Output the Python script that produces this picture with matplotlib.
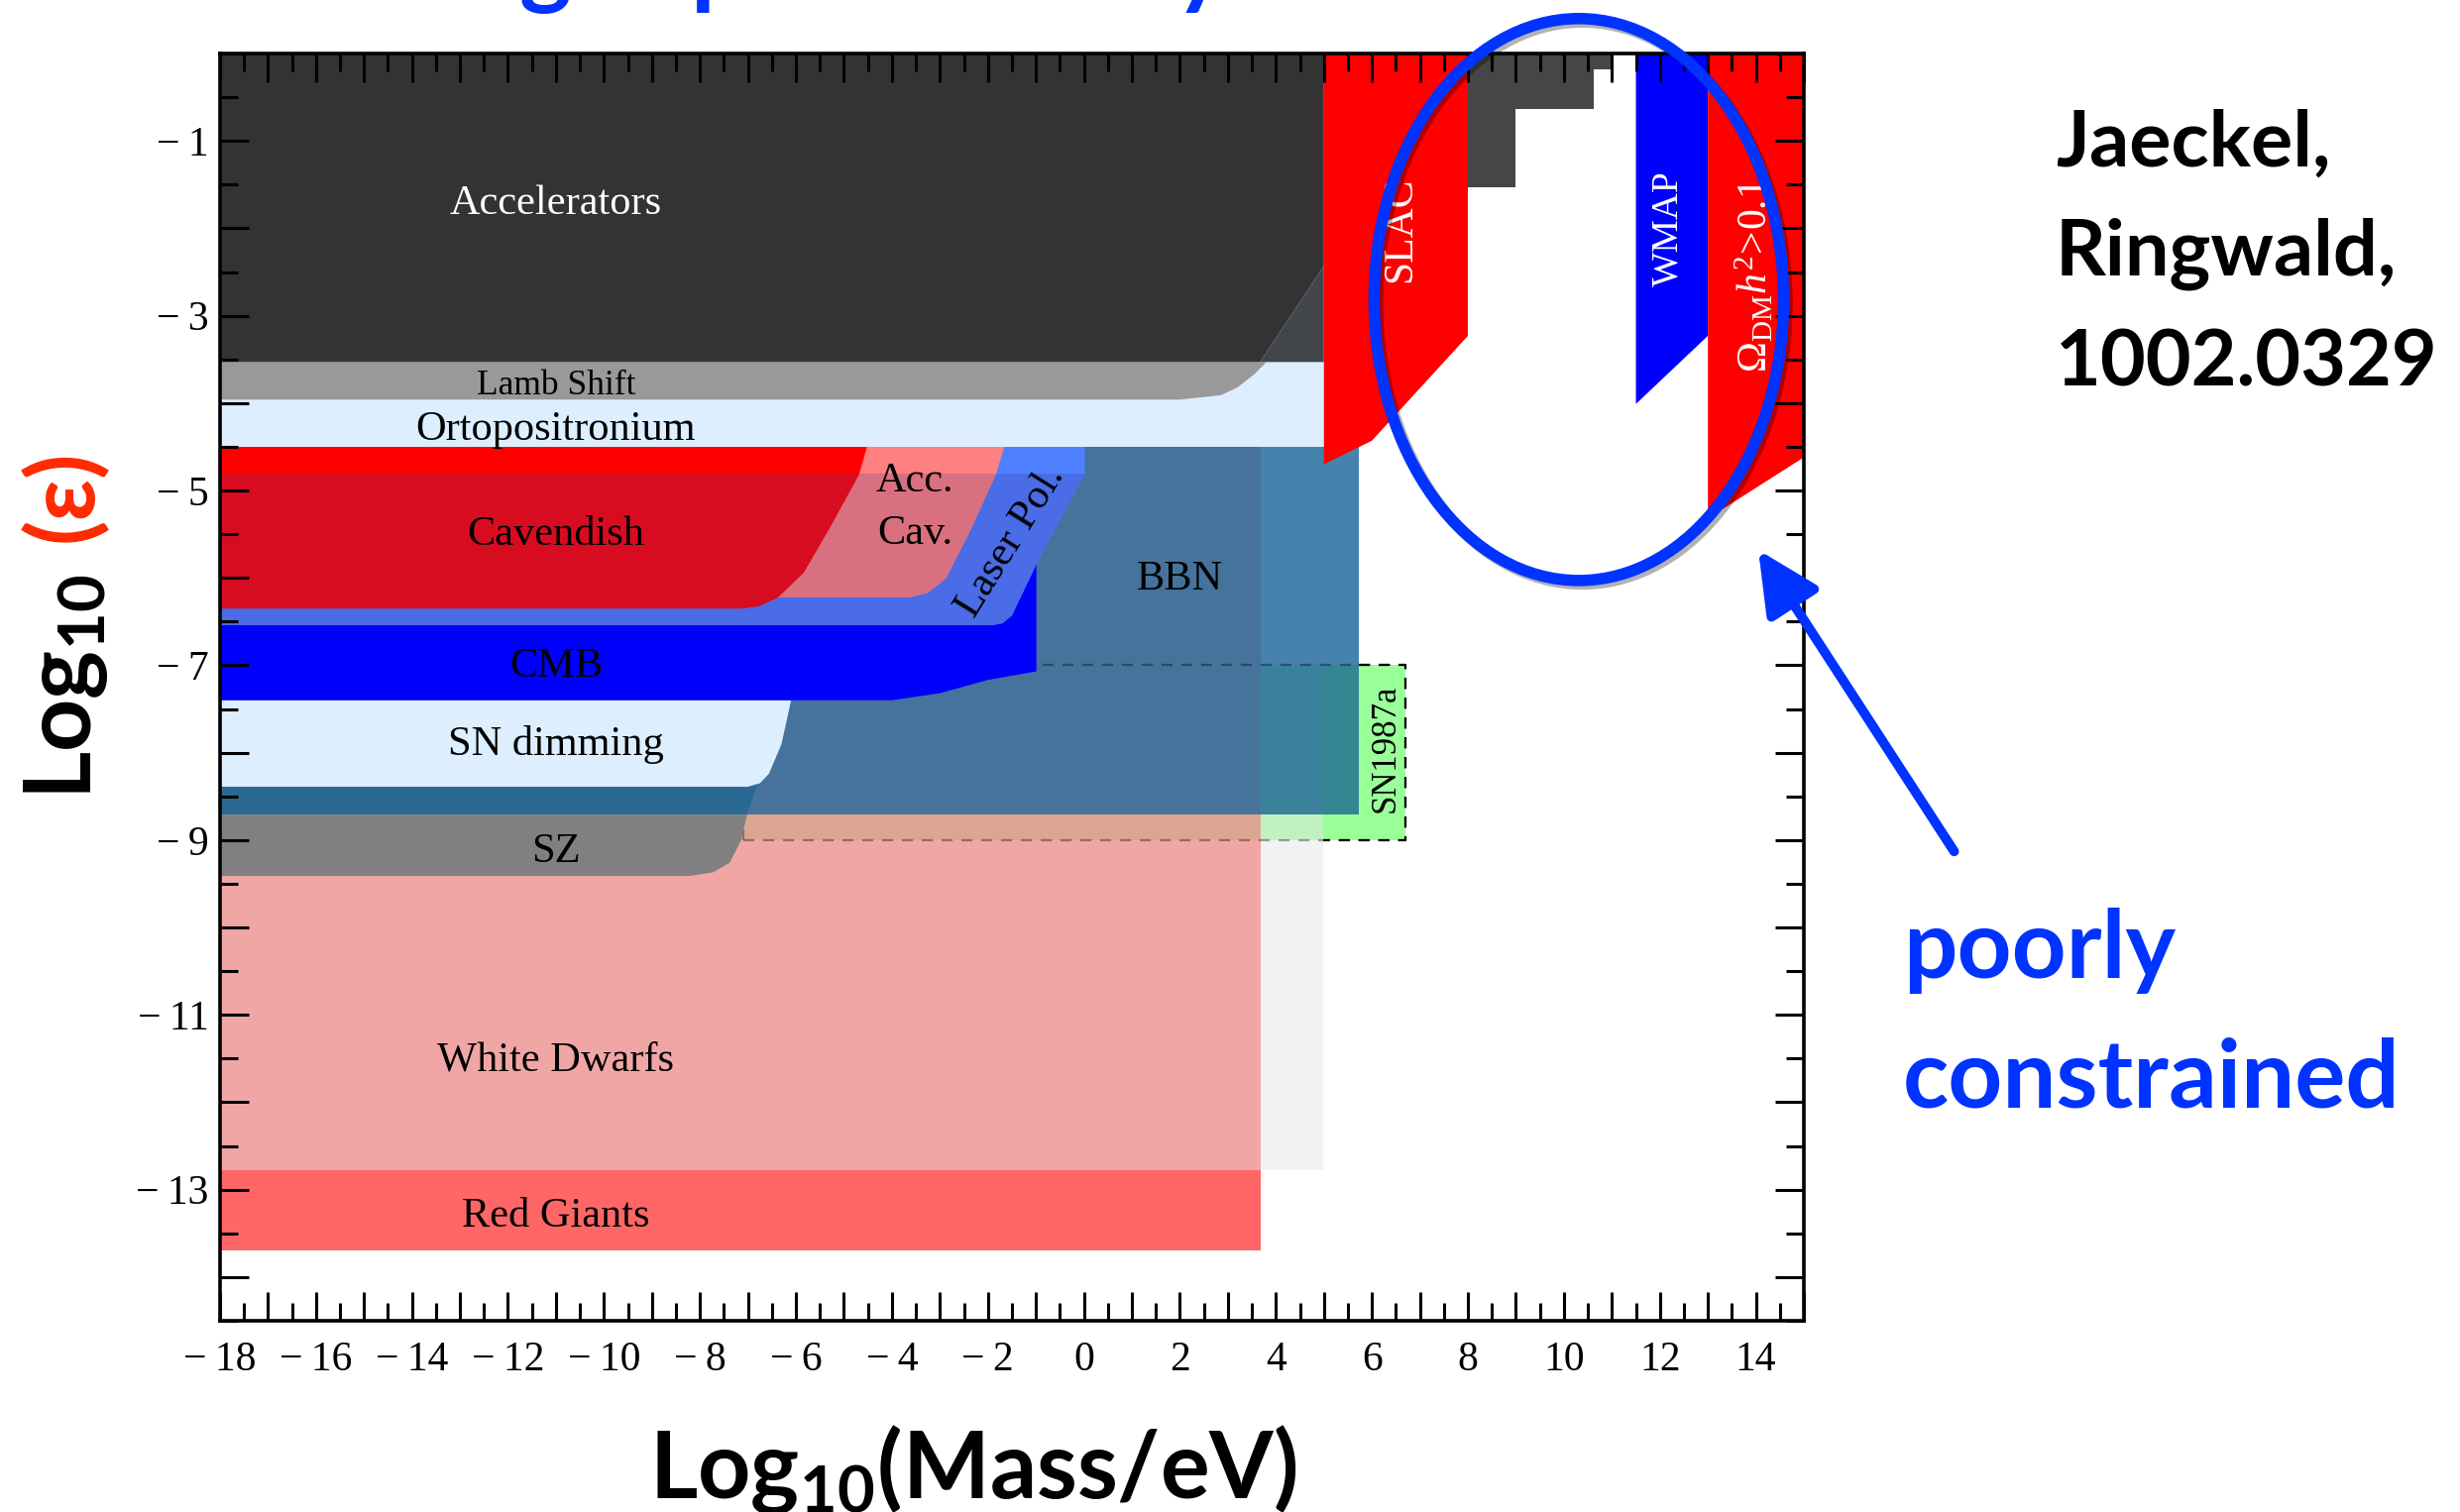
import numpy as np
import matplotlib
matplotlib.use('Agg')
import matplotlib.pyplot as plt
import matplotlib.patheffects as pe
from matplotlib.patches import Polygon, Rectangle, Ellipse
from matplotlib.ticker import MultipleLocator, FuncFormatter

plt.rcParams['font.family'] = ['Liberation Serif', 'DejaVu Serif']
plt.rcParams['mathtext.fontset'] = 'custom'
plt.rcParams['mathtext.rm'] = 'Liberation Serif'
plt.rcParams['mathtext.it'] = 'Liberation Serif:italic'
plt.rcParams['mathtext.bf'] = 'Lato:bold'

# axis ranges: x = log10(mass/eV), y = log10(eps)
xlim = (-18, 15)
ylim = (-14.5, 0)

# outlines of the excluded regions
accel_x = [-18, 5, 5, 3.67, -18]
accel_y = [0, 0, -2.43, -3.53, -3.53]
accel2_x = [3.67, 5, 5]
accel2_y = [-3.53, -2.43, -3.53]
lamb_x = [-18, 3.8, 3.55, 3.2, 2.85, 2.0, -18]
lamb_y = [-3.53, -3.53, -3.67, -3.82, -3.91, -3.96, -3.96]
ortho_x = [-18, 5]
ortho_y = [-4.5, -3.53]
cav_x = [-18, -4.52, -4.68, -5.31, -5.84, -6.37, -6.75, -7.1, -18]
cav_y = [-4.5, -4.5, -4.81, -5.44, -5.94, -6.22, -6.32, -6.35, -6.35]
acccav_x = [-18, -1.66, -1.83, -2.35, -2.88, -3.25, -3.6, -18]
acccav_y = [-4.5, -4.5, -4.81, -5.44, -6.01, -6.17, -6.22, -6.22]
laser_x = [-18, 0.02, 0.02, -0.97, -1.5, -1.7, -1.9, -18]
laser_y = [-4.5, -4.5, -4.81, -5.82, -6.43, -6.52, -6.54, -6.54]
cmb_x = [-18, -0.99, -0.99, -2.02, -3.0, -4.0, -18]
cmb_y = [-5.8, -5.8, -7.07, -7.17, -7.32, -7.40, -7.40]
sndim_x = [-18, -6.1, -6.3, -6.56, -6.75, -7.0, -18]
sndim_y = [-7.4, -7.4, -7.9, -8.24, -8.35, -8.39, -8.39]
strip_x = [-18, -6.7, -7.02, -18]
strip_y = [-8.2, -8.2, -8.71, -8.71]
sz_x = [-18, -7.02, -7.14, -7.38, -7.73, -8.21, -18]
sz_y = [-8.71, -8.71, -9.0, -9.26, -9.37, -9.41, -9.41]
bbn_x = [-18, 5.72]
bbn_y = [-8.71, -4.5]
sn87_x = [-7.1, 6.69]
sn87_y = [-9.0, -7.0]
wd_x = [-18, 3.68]
wd_y = [-12.78, -8.71]
rg_x = [-18, 3.68]
rg_y = [-13.70, -12.78]
col_x = [3.68, 4.98]
col_y = [-12.78, -8.71]
slac_x = [5, 8, 8, 6.0, 5]
slac_y = [0, 0, -3.23, -4.43, -4.70]
steps_x = [8, 11, 11, 10.63, 10.63, 9, 9, 8]
steps_y = [0, 0, -0.18, -0.18, -0.63, -0.63, -1.53, -1.53]
wmap_x = [11.5, 13, 13, 11.5]
wmap_y = [0, 0, -3.23, -4.01]
omega_x = [13, 15, 15, 13]
omega_y = [0, 0, -4.62, -5.32]
overlay_top = -4.81

fig = plt.figure(figsize=(24.82, 15.26), dpi=100)
ax = fig.add_axes([0.0894, 0.1265, 0.6439, 0.8381])
ax.set_xlim(*xlim)
ax.set_ylim(*ylim)


def poly(x, y, color, clip=None):
    p = Polygon(np.column_stack([x, y]), closed=True, fc=color, ec='none', lw=0)
    ax.add_patch(p)
    if clip is not None:
        p.set_clip_path(clip)
    return p


def rect(x, y, color, **kw):
    r = Rectangle((x[0], y[0]), x[1] - x[0], y[1] - y[0], fc=color, ec='none', lw=0, **kw)
    ax.add_patch(r)
    return r


# lower part: stars and SN1987a
rect(col_x, col_y, '#f2f2f2')
rect(wd_x, wd_y, '#f1a6a6')
rect(sn87_x, sn87_y, '#99ff99')
rect(wd_x, [sn87_y[0], wd_y[1]], '#dca592')
rect(col_x, [sn87_y[0], wd_y[1]], '#bff2bf')
rect(rg_x, rg_y, '#ff6666')

# BBN
rect(bbn_x, bbn_y, '#45739b')
rect([col_x[0], bbn_x[1]], [sn87_y[1], bbn_y[1]], '#4582ae')
rect(col_x, [bbn_y[0], sn87_y[1]], '#3a829c')
rect([col_x[1], bbn_x[1]], [bbn_y[0], sn87_y[1]], '#358592')

# dashed SN1987a box
ax.add_patch(Rectangle((sn87_x[0], sn87_y[0]), sn87_x[1] - sn87_x[0], sn87_y[1] - sn87_y[0],
                       fill=False, ec=(0, 0, 0, 0.35), lw=1.6, ls=(0, (5, 4))))
ax.plot([bbn_x[1], sn87_x[1], sn87_x[1], col_x[1]],
        [sn87_y[1], sn87_y[1], sn87_y[0], sn87_y[0]], color='k', lw=1.6, ls=(0, (5, 4)))

poly(strip_x, strip_y, '#2b6995')
poly(sz_x, sz_y, '#808080')
poly(sndim_x, sndim_y, '#ddeeff')
poly(cmb_x, cmb_y, '#0000ff')

# lab experiments; lower part is darkened below overlay_top
below = Rectangle((xlim[0], ylim[0]), xlim[1] - xlim[0], overlay_top - ylim[0], transform=ax.transData)
poly(laser_x, laser_y, '#4f80ff')
poly(laser_x, laser_y, '#4a6ce6', clip=below)
poly(acccav_x, acccav_y, '#ff8080')
poly(acccav_x, acccav_y, '#d8707f', clip=below)
poly(cav_x, cav_y, '#ff0000')
poly(cav_x, cav_y, '#d80c20', clip=below)

rect(ortho_x, ortho_y, '#ddeeff')
poly(lamb_x, lamb_y, '#999999')
poly(accel_x, accel_y, '#333333')
poly(accel2_x, accel2_y, '#42464a')

poly(slac_x, slac_y, '#ff0000')
poly(steps_x, steps_y, '#464646')
poly(wmap_x, wmap_y, '#0000ff')
poly(omega_x, omega_y, '#ff0000')

# region labels
fs = 30.5
ax.text(-11.0, -1.72, 'Accelerators', color='white', fontsize=fs, ha='center', va='center')
ax.text(-11.0, -3.80, 'Lamb Shift', fontsize=25.5, ha='center', va='center')
ax.text(-11.0, -4.31, 'Ortopositronium', fontsize=fs, ha='center', va='center')
ax.text(-11.0, -5.51, 'Cavendish', fontsize=fs, ha='center', va='center')
ax.text(-3.52, -4.90, 'Acc.', fontsize=fs, ha='center', va='center')
ax.text(-3.52, -5.50, 'Cav.', fontsize=fs, ha='center', va='center')
ax.text(-1.52, -5.58, 'Laser Pol.', fontsize=fs, ha='center', va='center', rotation=58)
ax.text(2.0, -6.02, 'BBN', fontsize=fs, ha='center', va='center')
ax.text(-11.0, -7.01, 'CMB', fontsize=fs, ha='center', va='center')
ax.text(-11.0, -7.91, 'SN dimming', fontsize=fs, ha='center', va='center')
ax.text(-11.0, -9.13, 'SZ', fontsize=fs, ha='center', va='center')
ax.text(-11.0, -11.52, 'White Dwarfs', fontsize=fs, ha='center', va='center')
ax.text(-11.0, -13.31, 'Red Giants', fontsize=fs, ha='center', va='center')
ax.text(6.28, -7.95, 'SN1987a', fontsize=25, ha='center', va='center', rotation=90)
ax.text(6.6, -2.02, 'SLAC', color='white', fontsize=30, ha='center', va='center', rotation=90)
ax.text(12.17, -2.0, 'WMAP', color='white', fontsize=27, ha='center', va='center', rotation=90)
ax.text(13.98, -2.54, r'$\Omega_{\rm DM}h^2\!>\!0.1$', color='white', fontsize=30,
        ha='center', va='center', rotation=90)

# axes and ticks
for s in ax.spines.values():
    s.set_linewidth(2.6)
    s.set_zorder(20)
ax.xaxis.set_major_locator(MultipleLocator(1))
ax.xaxis.set_minor_locator(MultipleLocator(0.5))
ax.yaxis.set_major_locator(MultipleLocator(1))
ax.yaxis.set_minor_locator(MultipleLocator(0.5))


def lab(v, keep):
    i = int(round(v))
    if i % 2 != keep:
        return ''
    return ('\u2212\u2009' + str(-i)) if i < 0 else str(i)


ax.xaxis.set_major_formatter(FuncFormatter(lambda v, p: lab(v, 0)))
ax.yaxis.set_major_formatter(FuncFormatter(lambda v, p: lab(v, 1)))
ax.tick_params(which='both', direction='in', top=True, right=True, width=2.2, colors='k')
ax.tick_params(which='major', length=21, labelsize=30)
ax.tick_params(which='minor', length=13)
ax.tick_params(axis='x', which='major', pad=15)
ax.tick_params(axis='y', which='major', pad=8)

# annotations
blue = '#0033ff'
shadow = [pe.SimpleLineShadow(offset=(2.5, -2.5), shadow_color='k', alpha=0.3), pe.Normal()]
ax.add_patch(Ellipse((10.31, -2.815), 8.53, 6.43, fill=False, ec=blue, lw=8.3,
                     clip_on=False, zorder=30, path_effects=shadow))
ax.annotate('', xy=(14.05, -5.68), xytext=(18.13, -9.13), annotation_clip=False,
            arrowprops=dict(arrowstyle='-|>,head_length=3.8,head_width=1.85', mutation_scale=10,
                            lw=7, color=blue, shrinkA=0, shrinkB=0), zorder=30)

sans = ['Lato', 'DejaVu Sans']
for txt, yy in [('Jaeckel,', 0.890), ('Ringwald,', 0.818), ('1002.0329', 0.745)]:
    fig.text(0.8356, yy, txt, family=sans, weight='bold', fontsize=57, va='baseline')
fig.text(0.7736, 0.3532, 'poorly', family=sans, weight='bold', fontsize=69, color=blue, va='baseline')
fig.text(0.7736, 0.2674, 'constrained', family=sans, weight='bold', fontsize=69, color=blue, va='baseline')

fig.text(0.3957, 0.0092, r'$\mathbf{Log_{10}(Mass/eV)}$', fontsize=67, ha='center', va='baseline')
fig.text(0.027, 0.546, r'$\mathbf{Log_{10}}$', fontsize=67, ha='center', va='center', rotation=90)
fig.text(0.0258, 0.672, '(\u03b5)', family=sans, weight='bold', fontsize=67, color='#ff2a00',
         ha='center', va='center', rotation=90)

# descenders of the slide title, cut by the top edge
for ch, xx in [('g', 0.2111), ('p', 0.2808), ('y', 0.4774)]:
    fig.text(xx, 1.0027, ch, family=sans, weight='bold', fontsize=72, color=blue, va='baseline')

fig.savefig('out.png', dpi=100)
